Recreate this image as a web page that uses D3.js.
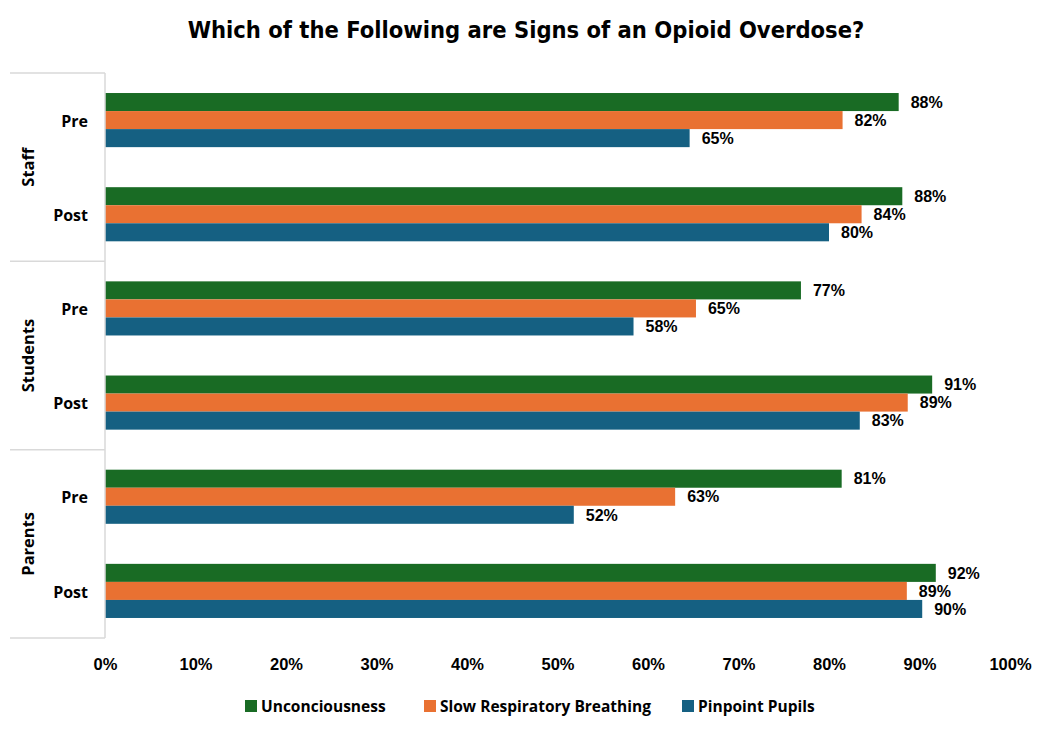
<!DOCTYPE html>
<html>
<head>
<meta charset="utf-8">
<script src="https://cdn.jsdelivr.net/npm/d3@7"></script>
<style>
body { margin: 0; background: #fff; }
.title { font: bold 23.5px "Liberation Sans Narrow", "DejaVu Sans Condensed", sans-serif; }
.tick text { font: bold 16.5px "Liberation Sans", Arial, sans-serif; fill: #000; }
.valueLabel { font: bold 16px "Liberation Sans", Arial, sans-serif; fill: #000; }
.catLabel { font: bold 16px "Open Sans", sans-serif; fill: #000; }
.grpLabel { font: bold 16.5px "Open Sans", sans-serif; fill: #000; }
.legendText { font: bold 15.5px "Open Sans", sans-serif; fill: #000; }
.sep { stroke: #d9d9d9; stroke-width: 1.5px; }
</style>
</head>
<body>
<div id="chart"></div>
<script>
const groups = ["Staff", "Students", "Parents"];
const phases = ["Pre", "Post"];
const series = ["Unconciousness", "Slow Respiratory Breathing", "Pinpoint Pupils"];
const colors = ["#196B24", "#E97132", "#156082"];
// values per group/phase, in series order
const unconscious = [87.7, 88.1, 76.9, 91.4, 81.4, 91.8];
const slowBreathing = [81.5, 83.6, 65.3, 88.7, 63.0, 88.6];
const pinpoint = [64.6, 80.0, 58.4, 83.4, 51.8, 90.3];
const xTicks = [0, 10, 20, 30, 40, 50, 60, 70, 80, 90, 100];

const W = 1048, H = 732;
const mLeft = 105, mRight = 1010, mTop = 73, mBottom = 638;

const svg = d3.select("#chart").append("svg")
  .attr("width", W).attr("height", H);

svg.append("text").attr("class", "title")
  .attr("x", 526).attr("y", 38).attr("text-anchor", "middle")
  .text("Which of the Following are Signs of an Opioid Overdose?");

const x = d3.scaleLinear().domain([0, 100]).range([mLeft, mRight]);
const yGroup = d3.scaleBand().domain(groups).range([mTop, mBottom]);
const yPhase = d3.scaleBand().domain(phases).range([0, yGroup.bandwidth()]);
const ySeries = d3.scaleBand().domain(series).range([0, yPhase.bandwidth()])
  .paddingInner(0).paddingOuter(1.11);

const rows = [];
groups.forEach((g, gi) => phases.forEach((p, pi) => {
  const k = gi * 2 + pi;
  rows.push({ group: g, phase: p, vals: [unconscious[k], slowBreathing[k], pinpoint[k]] });
}));

const rowG = svg.selectAll(".row").data(rows).enter().append("g")
  .attr("class", "row")
  .attr("transform", d => `translate(0, ${yGroup(d.group) + yPhase(d.phase)})`);

rowG.selectAll("rect").data(d => d.vals.map((v, i) => ({ v, s: series[i], c: colors[i] })))
  .enter().append("rect")
  .attr("x", x(0))
  .attr("y", d => ySeries(d.s))
  .attr("width", d => x(d.v) - x(0))
  .attr("height", ySeries.bandwidth())
  .attr("fill", d => d.c);

rowG.selectAll(".valueLabel").data(d => d.vals.map((v, i) => ({ v, s: series[i] })))
  .enter().append("text").attr("class", "valueLabel")
  .attr("x", d => x(d.v) + 12)
  .attr("y", d => ySeries(d.s) + ySeries.bandwidth() / 2)
  .attr("dy", "0.36em")
  .text(d => Math.round(d.v) + "%");

rowG.append("text").attr("class", "catLabel")
  .attr("x", 88).attr("y", yPhase.bandwidth() / 2 + 1)
  .attr("dy", "0.36em").attr("text-anchor", "end")
  .text(d => d.phase);

// left axis frame
svg.append("line").attr("class", "sep")
  .attr("x1", mLeft).attr("x2", mLeft).attr("y1", mTop).attr("y2", mBottom);
const bounds = groups.map(g => yGroup(g)).concat([mBottom]);
svg.selectAll(".hsep").data(bounds).enter().append("line").attr("class", "sep")
  .attr("x1", 10).attr("x2", mLeft).attr("y1", d => d).attr("y2", d => d);

svg.selectAll(".grpLabel").data(groups).enter().append("text").attr("class", "grpLabel")
  .attr("text-anchor", "middle")
  .attr("transform", d => `translate(28, ${yGroup(d) + yGroup.bandwidth() / 2}) rotate(-90)`)
  .attr("dy", "0.36em")
  .text(d => d);

// x axis
const xAxis = svg.append("g").attr("transform", `translate(0, ${mBottom + 17})`)
  .call(d3.axisBottom(x).tickValues(xTicks).tickFormat(d => d + "%").tickSize(0));
xAxis.select(".domain").remove();

// legend
const legendX = [245, 424, 682];
const lg = svg.selectAll(".legend").data(series).enter().append("g")
  .attr("transform", (d, i) => `translate(${legendX[i]}, 706)`);
lg.append("rect").attr("x", 0).attr("y", -6).attr("width", 12).attr("height", 12)
  .attr("fill", (d, i) => colors[i]);
lg.append("text").attr("class", "legendText").attr("x", 16).attr("dy", "0.36em").text(d => d);
</script>
</body>
</html>
